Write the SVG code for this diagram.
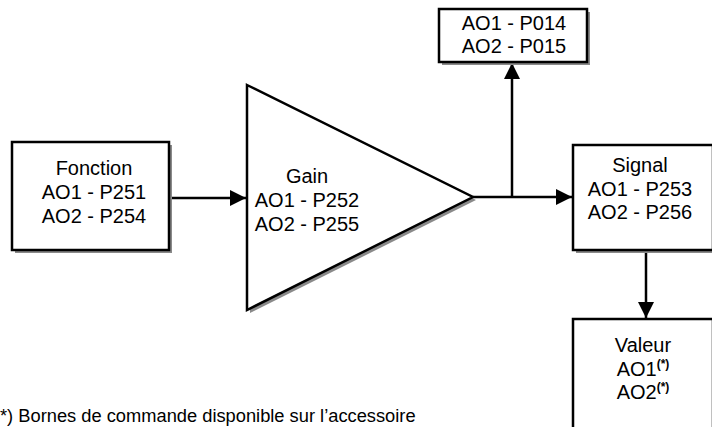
<svg xmlns="http://www.w3.org/2000/svg" width="712" height="427" viewBox="0 0 712 427">
<style>
.box{fill:#fff;stroke:#000;stroke-width:2.5}
.sh{fill:#8a8a8a}
.t{font-family:"Liberation Sans",Arial,sans-serif;font-size:20px;fill:#000;text-anchor:middle}
.fn{font-family:"Liberation Sans",Arial,sans-serif;font-size:18.3px;fill:#000}
.sup{font-size:12px;font-weight:bold}
.ln{fill:none;stroke:#000;stroke-width:2.5}
</style>
<defs>
<marker id="ah" viewBox="0 0 10 10" refX="10" refY="5" markerWidth="16" markerHeight="16" markerUnits="userSpaceOnUse" orient="auto">
<path d="M0,0 L10,5 L0,10 z" fill="#000"/>
</marker>
</defs>
<rect width="712" height="427" fill="#fff"/>
<g id="connectors">
<line class="ln" x1="169" y1="198" x2="246" y2="198" marker-end="url(#ah)"/>
<line class="ln" x1="473" y1="197" x2="572" y2="197" marker-end="url(#ah)"/>
<line class="ln" x1="512" y1="197" x2="512" y2="63" marker-end="url(#ah)"/>
<line class="ln" x1="646" y1="250" x2="646" y2="318" marker-end="url(#ah)"/>
</g>
<g id="fonction">
<rect class="sh" x="15" y="145" width="157" height="108"/>
<rect class="box" x="12" y="142" width="157" height="108"/>
<text class="t" x="94" y="175">Fonction</text>
<text class="t" x="94" y="199">AO1 - P251</text>
<text class="t" x="94" y="223">AO2 - P254</text>
</g>
<g id="gain">
<polygon class="sh" points="250,88 476,200 250,313"/>
<polygon class="box" points="247,85 473,197 247,310"/>
<text class="t" x="307" y="183">Gain</text>
<text class="t" x="307" y="207">AO1 - P252</text>
<text class="t" x="307" y="231">AO2 - P255</text>
</g>
<g id="affichage">
<rect class="sh" x="442" y="12" width="148" height="53"/>
<rect class="box" x="439" y="9" width="148" height="53"/>
<text class="t" x="514" y="30">AO1 - P014</text>
<text class="t" x="514" y="53">AO2 - P015</text>
</g>
<g id="signal">
<rect class="sh" x="576" y="148" width="140" height="105"/>
<rect class="box" x="573" y="145" width="140" height="105"/>
<text class="t" x="640" y="172">Signal</text>
<text class="t" x="640" y="196">AO1 - P253</text>
<text class="t" x="640" y="219">AO2 - P256</text>
</g>
<g id="valeur">
<rect class="sh" x="576" y="322" width="140" height="110"/>
<rect class="box" x="573" y="319" width="140" height="110"/>
<text class="t" x="643" y="352">Valeur</text>
<text class="t" x="643" y="376">AO1<tspan class="sup" dy="-8">(*)</tspan></text>
<text class="t" x="643" y="399">AO2<tspan class="sup" dy="-8">(*)</tspan></text>
</g>
<text class="fn" x="0" y="422">*) Bornes de commande disponible sur l’accessoire</text>
</svg>
